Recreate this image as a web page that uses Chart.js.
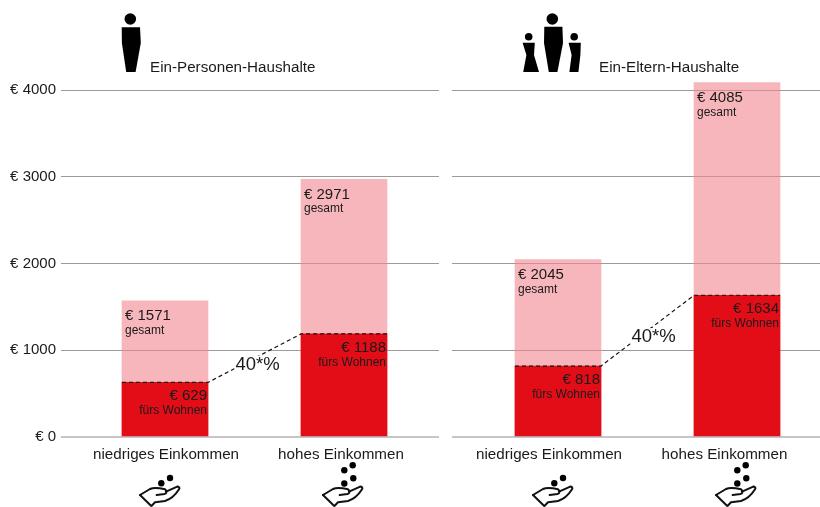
<!DOCTYPE html>
<html lang="de">
<head>
<meta charset="utf-8">
<title>Wohnkosten nach Haushaltsform</title>
<script src="https://cdn.jsdelivr.net/npm/chart.js@4/dist/chart.umd.min.js"></script>
<style>
  html, body { margin: 0; padding: 0; background: #fff; }
  #stage { position: relative; width: 820px; height: 507px; overflow: hidden; }
  #stage svg { position: absolute; left: 0; top: 0; pointer-events: none; }
</style>
</head>
<body>
<div id="stage">
  <div style="position:absolute;left:0;top:0;width:445px;height:507px"><canvas id="single"></canvas></div>
  <div style="position:absolute;left:445px;top:0;width:375px;height:507px"><canvas id="parent"></canvas></div>
  <svg width="820" height="507" viewBox="0 0 820 507">
    <defs>
      <g id="hand" fill="none" stroke="#111" stroke-width="2" stroke-linejoin="round" stroke-linecap="round">
        <path d="M0 9 L10 3 C13 1.5 18 1.5 25 3.3 C27 4.5 27 7.5 24.5 8 L16.7 9"/>
        <path d="M26 5.7 L36.7 .8 C39.5 0 40 2.5 38.5 4 C36 8 31 13 25 15 L15 16.3 L11.7 19.7"/>
        <path d="M0 9 L11 19.7"/>
      </g>
    </defs>
    <g fill="#000">
      <circle cx="130.3" cy="19" r="5.8"/>
      <path d="M121.7 27.3 L140 27.3 L140.8 43 L135.6 72 L126.2 72 L121.9 43 Z"/>
      <circle cx="552.3" cy="19" r="5.8"/>
      <path d="M544.3 26.8 L562.4 26.8 L563 43 L557.4 72 L548.8 72 L544 43 Z"/>
      <circle cx="528.7" cy="36.8" r="3.8"/>
      <path d="M522.6 42.8 L534.8 42.8 L534 55 L539 72 L523.2 72 L526.4 55 Z"/>
      <circle cx="574.2" cy="36.8" r="3.8"/>
      <path d="M568.6 42.8 L580.8 42.8 L580.4 55 L578.4 72 L569.4 72 L571.6 55 Z"/>
      <circle cx="161.3" cy="483.3" r="3.2"/><circle cx="170" cy="478" r="3.2"/>
      <circle cx="344.3" cy="483.5" r="3.2"/><circle cx="353.3" cy="478.2" r="3.2"/>
      <circle cx="344.3" cy="470.2" r="3.2"/><circle cx="352.7" cy="465.3" r="3.2"/>
      <circle cx="554.3" cy="483.3" r="3.2"/><circle cx="563" cy="478" r="3.2"/>
      <circle cx="737.3" cy="483.5" r="3.2"/><circle cx="746.3" cy="478.2" r="3.2"/>
      <circle cx="737.3" cy="470.2" r="3.2"/><circle cx="745.7" cy="465.3" r="3.2"/>
    </g>
    <use href="#hand" x="140" y="486"/>
    <use href="#hand" x="323" y="486"/>
    <use href="#hand" x="533" y="486"/>
    <use href="#hand" x="716" y="486"/>
  </svg>
</div>
<script>
// Einkommensgruppen
const categories = ['niedriges Einkommen', 'hohes Einkommen'];
const yTicks = [0, 1000, 2000, 3000, 4000];

// Ein-Personen-Haushalte: Gesamtbudget und Anteil fürs Wohnen in Euro
const singleTotal = [1571, 2971];
const singleHousing = [629, 1188];

// Ein-Eltern-Haushalte
const parentTotal = [2045, 4085];
const parentHousing = [818, 1634];

const PINK = 'rgba(241,134,141,0.6)';
const RED = 'rgba(227,4,16,0.95)';
const INK = '#1a1a1a';
const FONT = '"Liberation Sans", Arial, sans-serif';
const BAR_PX = 86;
const STEP_PX = 179;
const HALF = (BAR_PX / 2) / STEP_PX;

// Beschriftungen der Balken und des Prozentwerts
const barNotes = {
  id: 'barNotes',
  afterDatasetsDraw(chart, args, o) {
    const { ctx, scales: { x, y } } = chart;
    ctx.save();
    ctx.fillStyle = INK;
    ctx.textBaseline = 'alphabetic';
    ctx.font = '15.2px ' + FONT;
    ctx.textAlign = 'left';
    ctx.fillText(o.title, o.titleX, 72);
    o.total.forEach((v, i) => {
      const left = x.getPixelForValue(i + 1 - HALF);
      const right = x.getPixelForValue(i + 1 + HALF);
      const top = y.getPixelForValue(v);
      ctx.textAlign = 'left';
      ctx.font = '15px ' + FONT;
      ctx.fillText('€ ' + v, left + 3, top + 19.5);
      ctx.font = '12px ' + FONT;
      ctx.fillText('gesamt', left + 3, top + 33);
      const hTop = y.getPixelForValue(o.housing[i]);
      ctx.textAlign = 'right';
      ctx.font = '15px ' + FONT;
      ctx.fillText('€ ' + o.housing[i], right - 1, hTop + 18);
      ctx.font = '12px ' + FONT;
      ctx.fillText('fürs Wohnen', right - 1, hTop + 32);
    });
    // Prozentwert unterbricht die gestrichelte Verbindung
    ctx.font = '18.5px ' + FONT;
    ctx.textAlign = 'center';
    const cx = x.getPixelForValue(1.5) + o.percentShift;
    const base = y.getPixelForValue((o.housing[0] + o.housing[1]) / 2) + 11.5;
    const w = ctx.measureText('40*%').width;
    ctx.fillStyle = '#fff';
    ctx.fillRect(cx - w / 2 - 1, base - 14, w + 2, 16);
    ctx.fillStyle = INK;
    ctx.fillText('40*%', cx, base);
    ctx.restore();
  }
};

function makeChart(id, total, housing, cfg) {
  const dashed = [
    { x: 1 - HALF, y: housing[0] },
    { x: 1 + HALF, y: housing[0] },
    { x: 2 - HALF, y: housing[1] },
    { x: 2 + HALF, y: housing[1] }
  ];
  return new Chart(document.getElementById(id), {
    type: 'bar',
    data: {
      datasets: [
        { type: 'line', data: dashed, borderColor: '#111', borderWidth: 1.2, borderDash: [4, 3], pointRadius: 0, tension: 0, order: 0 },
        { data: housing.map((v, i) => ({ x: i + 1, y: v })), backgroundColor: RED, barThickness: BAR_PX, grouped: false, order: 1 },
        { data: total.map((v, i) => ({ x: i + 1, y: v })), backgroundColor: PINK, barThickness: BAR_PX, grouped: false, order: 2 }
      ]
    },
    plugins: [barNotes],
    options: {
      responsive: true,
      maintainAspectRatio: false,
      animation: false,
      events: [],
      layout: { padding: { top: 20, right: cfg.padRight, bottom: 0, left: 0 } },
      plugins: {
        legend: { display: false },
        tooltip: { enabled: false },
        barNotes: { title: cfg.title, titleX: cfg.titleX, percentShift: cfg.percentShift, total, housing }
      },
      scales: {
        x: {
          type: 'linear',
          offset: false,
          min: cfg.xMin,
          max: cfg.xMax,
          // Die Achsentexte sitzen leicht versetzt zur Balkenmitte
          afterBuildTicks(s) { s.ticks = cfg.labelShift.map((px, i) => ({ value: i + 1 + px / STEP_PX })); },
          afterFit(s) { s.height = 70; },
          grid: { display: false, drawTicks: false },
          border: { display: false },
          ticks: {
            padding: 9,
            maxRotation: 0,
            autoSkip: false,
            color: INK,
            font: { family: FONT, size: 15.2 },
            callback: (v, i) => categories[i]
          }
        },
        y: {
          type: 'linear',
          min: 0,
          max: 4000 * (437 - 20) / 347,
          afterBuildTicks(s) { s.ticks = yTicks.map((value) => ({ value })); },
          afterFit(s) { s.width = cfg.yWidth; },
          border: { display: false },
          grid: {
            drawTicks: false,
            color: (c) => (c.tick && c.tick.value === 0 ? '#c6c6c6' : '#9b9b9b'),
            lineWidth: (c) => (c.tick && c.tick.value === 0 ? 2 : 1)
          },
          ticks: {
            display: cfg.showY,
            padding: 5,
            color: INK,
            font: { family: FONT, size: 15 },
            callback: (v) => '€ ' + v
          }
        }
      }
    }
  });
}

makeChart('single', singleTotal, singleHousing, {
  title: 'Ein-Personen-Haushalte', titleX: 150,
  xMin: 1 - (165 - 61) / STEP_PX, xMax: 2 + (439 - 344) / STEP_PX,
  yWidth: 61, showY: true, padRight: 6, labelShift: [1, -3], percentShift: 3
});
makeChart('parent', parentTotal, parentHousing, {
  title: 'Ein-Eltern-Haushalte', titleX: 154,
  xMin: 1 - (558 - 452) / STEP_PX, xMax: 2 + (820 - 737) / STEP_PX,
  yWidth: 7, showY: false, padRight: 0, labelShift: [-9, -12.5], percentShift: 6
});
</script>
</body>
</html>
